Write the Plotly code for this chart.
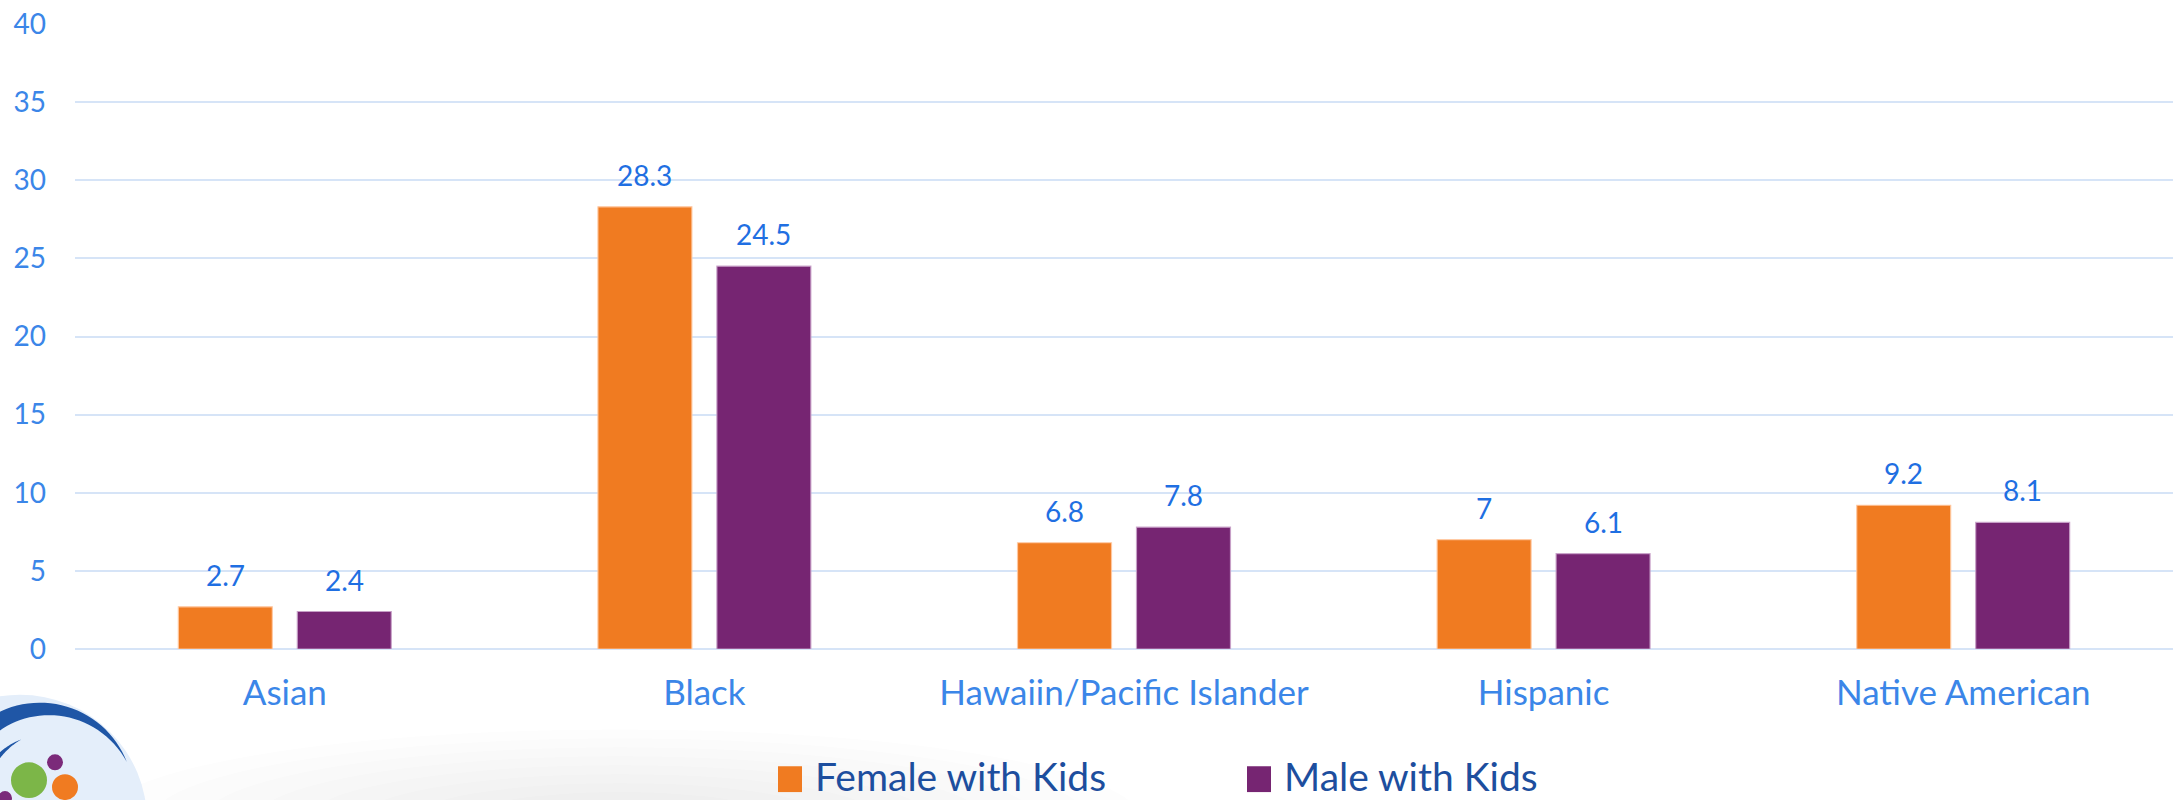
import math
import plotly.graph_objects as go

# ---- data -------------------------------------------------------------
categories = ["Asian", "Black", "Hawaiin/Pacific Islander", "Hispanic", "Native American"]
female_with_kids = [2.7, 28.3, 6.8, 7, 9.2]
male_with_kids = [2.4, 24.5, 7.8, 6.1, 8.1]
series_names = ["Female with Kids", "Male with Kids"]
y_tick_values = [0, 5, 10, 15, 20, 25, 30, 35, 40]

# ---- styling ----------------------------------------------------------
ORANGE = "#f07b21"
PURPLE = "#762572"
TICK_BLUE = "#3b86e8"
LABEL_BLUE = "#1f6fe2"
LEGEND_BLUE = "#1d4e9e"
GRID = "#d6e4f7"
FONT = "Lato"

W, H = 2179, 800
ML, MR, MT, MB = 75, 6, 20, 151
PW, PH = W - ML - MR, H - MT - MB

BARGAP = 0.433
GROUPGAP = 0.21


def px(x):
    """pixel x -> paper x"""
    return (x - ML) / PW


def py(y):
    """pixel y (from top) -> paper y"""
    return (H - MB - y) / PH


fig = go.Figure()
series = [female_with_kids, male_with_kids]
colors = [ORANGE, PURPLE]
edge = ["rgba(255,200,160,0.9)", "rgba(200,160,200,0.9)"]
for name, vals, col, ec in zip(series_names, series, colors, edge):
    fig.add_trace(go.Bar(
        x=categories, y=vals, name=name,
        marker=dict(color=col, line=dict(color=ec, width=1.2)),
        showlegend=False, hoverinfo="x+y",
    ))

# value labels above each bar
slot = PW / len(categories) * (1 - BARGAP) / 2
annotations = []
for i, vals in enumerate(series):
    shift = -slot / 2 if i == 0 else slot / 2
    for cat, v in zip(categories, vals):
        annotations.append(dict(
            x=cat, y=v, xref="x", yref="y", text=f"{v:g}",
            showarrow=False, xshift=shift, yshift=13, yanchor="bottom",
            font=dict(family=FONT, size=28, color=LABEL_BLUE),
        ))

shapes = []

# soft grey texture along the bottom edge (stacked faint ellipses -> gradient)
for k in range(10):
    f = 1 - k / 10
    shapes.append(dict(type="circle", xref="paper", yref="paper",
                       x0=px(620 - 520 * f), x1=px(620 + 520 * f),
                       y0=py(820 + 90 * f), y1=py(820 - 90 * f),
                       fillcolor="#7a7a7a", opacity=0.012, line=dict(width=0), layer="below"))

# legend drawn as swatches + text below the plot
legend_items = [(778, 813), (1247, 1282)]
for (sx, tx), name, col in zip(legend_items, series_names, colors):
    shapes.append(dict(type="rect", xref="paper", yref="paper",
                       x0=px(sx), x1=px(sx + 24), y0=py(793), y1=py(767),
                       fillcolor=col, line=dict(width=0), layer="above"))
    annotations.append(dict(x=px(tx), y=py(777), xref="paper", yref="paper",
                            text=name, showarrow=False, xanchor="left", yanchor="middle",
                            font=dict(family=FONT, size=39, color=LEGEND_BLUE)))


# logo in the lower-left corner
def circle(cx, cy, r, color, op=1.0):
    return dict(type="circle", xref="paper", yref="paper",
                x0=px(cx - r), x1=px(cx + r), y0=py(cy + r), y1=py(cy - r),
                fillcolor=color, opacity=op, line=dict(width=0), layer="above")


shapes.append(circle(20, 822, 127, "#e4eefa"))


def swoosh(cx0, cy0, r0, a_start, a_end, thick, drop=0.15):
    outer, inner = [], []
    n = 40
    for k in range(n + 1):
        a = a_start + (a_end - a_start) * k / n
        t = thick * (1 - (k / n) ** 1.6)
        ar = math.radians(a)
        outer.append((cx0 + r0 * math.cos(ar), cy0 - r0 * math.sin(ar)))
        inner.append((cx0 + (r0 - t) * math.cos(ar), cy0 - (r0 - t) * math.sin(ar) + t * drop))
    pts = outer + inner[::-1]
    path = "M " + " L ".join(f"{px(x):.5f},{py(y):.5f}" for x, y in pts) + " Z"
    return dict(type="path", path=path, xref="paper", yref="paper",
                fillcolor="#1f56a6", line=dict(width=0), layer="above")


shapes.append(swoosh(40, 796, 93, 160, 21, 17))
shapes.append(swoosh(44, 802, 66, 165, 110, 7, 0))

shapes.append(circle(29, 781, 18, "#7cb648"))
shapes.append(circle(55, 763, 8, "#7b2a7a"))
shapes.append(circle(65, 788, 13, ORANGE))
shapes.append(circle(5, 799, 7, "#7b2a7a"))

fig.update_layout(
    width=W, height=H,
    margin=dict(l=ML, r=MR, t=MT, b=MB, pad=0),
    paper_bgcolor="white", plot_bgcolor="rgba(0,0,0,0)",
    barmode="group", bargap=BARGAP, bargroupgap=GROUPGAP,
    font=dict(family=FONT),
    annotations=annotations, shapes=shapes,
    xaxis=dict(
        showgrid=False, showline=False, zeroline=False, ticks="",
        tickfont=dict(family=FONT, size=35, color=TICK_BLUE),
        ticklabelstandoff=20, fixedrange=True,
    ),
    yaxis=dict(
        range=[0, 40], tickvals=y_tick_values, showgrid=True, gridcolor=GRID, gridwidth=2,
        zeroline=True, zerolinecolor=GRID, zerolinewidth=2, showline=False, ticks="",
        tickfont=dict(family=FONT, size=28, color=TICK_BLUE),
        ticklabelstandoff=28, fixedrange=True,
    ),
)

fig.write_html("out.html", config=dict(displayModeBar=False))
